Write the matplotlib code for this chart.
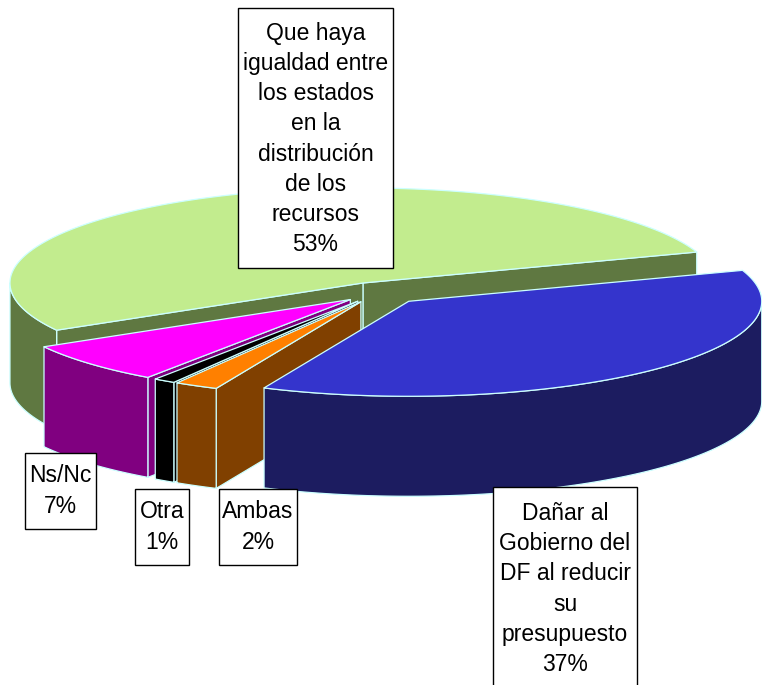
import numpy as np
import matplotlib
matplotlib.use("Agg")
import matplotlib.pyplot as plt
from matplotlib.patches import Polygon, Rectangle

plt.rcParams['font.family'] = ['Liberation Sans', 'DejaVu Sans']

# data, in counter-clockwise order starting at the green slice
labels = ["Que haya\nigualdad entre\nlos estados\nen la\ndistribución\nde los\nrecursos",
          "Ns/Nc", "Otra", "Ambas",
          "Dañar al\nGobierno del\nDF al reducir\nsu\npresupuesto"]
values = [53, 7, 1, 2, 37]
top_colors = ['#C2EC8E', '#FF00FF', '#000000', '#FF8000', '#3434CC']
side_colors = ['#5F7841', '#800080', '#000000', '#804000', '#1C1C60']

# label boxes (x0, y0, x1, y1) in pixels
boxes = [(238, 8, 393, 268), (25, 453, 96, 529), (135, 489, 189, 565),
         (219, 489, 297, 565), (493, 487, 637, 700)]
text_y = [139, 491, 527, 527, 589]

# pie geometry
cx, cy = 379, 292.5
rx, ry = 353, 95
depth = 100
explode = [0.11, 0.11, 0.11, 0.11, 0.125]
start = 19.0
edge = '#CCFFFF'

fig = plt.figure(figsize=(7.62, 6.85), dpi=100)
ax = fig.add_axes([0, 0, 1, 1])
ax.set_xlim(0, 762)
ax.set_ylim(685, 0)
ax.axis('off')


def arc(x0, y0, a1, a2, dy=0):
    t = np.radians(np.linspace(a1, a2, 200))
    return np.column_stack([x0 + rx * np.cos(t), y0 - ry * np.sin(t) + dy])


def poly(pts, color):
    ax.add_patch(Polygon(pts, closed=True, facecolor=color, edgecolor=edge,
                         linewidth=0.9, joinstyle='round'))


angles = start + np.concatenate([[0], np.cumsum(values)]) * 360.0 / sum(values)

for i in range(len(values)):
    a1, a2 = angles[i], angles[i + 1]
    m = np.radians((a1 + a2) / 2)
    x0 = cx + explode[i] * rx * np.cos(m)
    y0 = cy - explode[i] * ry * np.sin(m)

    # radial faces that face the viewer
    for a, vis in ((a1, np.cos(np.radians(a1)) > 0), (a2, np.cos(np.radians(a2)) < 0)):
        if vis:
            p = arc(x0, y0, a, a, 0)[0]
            poly([(x0, y0), p, (p[0], p[1] + depth), (x0, y0 + depth)], side_colors[i])

    # front part of the outer wall
    for k in (0, 1):
        lo = max(a1, 180 + 360 * k)
        hi = min(a2, 360 + 360 * k)
        if hi > lo:
            top = arc(x0, y0, lo, hi)
            bot = arc(x0, y0, hi, lo, depth)
            poly(np.vstack([top, bot]), side_colors[i])

    # top face
    poly(np.vstack([[(x0, y0)], arc(x0, y0, a1, a2)]), top_colors[i])

for lab, v, (bx0, by0, bx1, by1), ty in zip(labels, values, boxes, text_y):
    ax.add_patch(Rectangle((bx0, by0), bx1 - bx0, by1 - by0, facecolor='white',
                           edgecolor='black', linewidth=1.0, zorder=5))
    ax.text((bx0 + bx1) / 2, ty, f"{lab}\n{v}%", ha='center', va='center',
            fontsize=16.5, linespacing=1.39, zorder=6)

fig.savefig('out.png', dpi=100)
